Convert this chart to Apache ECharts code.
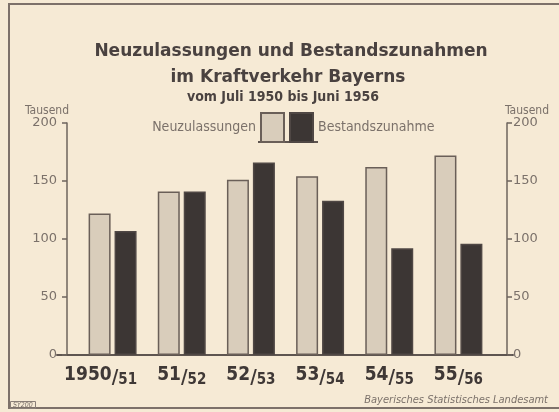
<!DOCTYPE html>
<html>
<head>
<meta charset="utf-8">
<script src="https://cdn.jsdelivr.net/npm/echarts@6/dist/echarts.min.js"></script>
<style>
  html, body { margin: 0; padding: 0; background: #f6ead5; }
  #main { width: 559px; height: 412px; }
</style>
</head>
<body>
<div id="main"></div>
<script>
// Jahre (Juli bis Juni), Werte in Tausend
const years = ['1950/51', '51/52', '52/53', '53/54', '54/55', '55/56'];
const neuzulassungen = [122, 141, 151, 154, 162, 172];
const bestandszunahme = [107, 141, 166, 133, 92, 96];
const yTicks = [0, 50, 100, 150, 200];

const font = 'DejaVu Sans Condensed, DejaVu Sans, sans-serif';
const ink = '#4a4240';
const grey = '#7b716a';

var chartDom = document.getElementById('main');
var myChart = echarts.init(chartDom);

const yAxisBase = {
  type: 'value',
  min: yTicks[0],
  max: yTicks[yTicks.length - 1],
  interval: 50,
  splitLine: { show: false },
  axisLine: { show: true, lineStyle: { color: '#6e645d', width: 1.5 } },
  axisTick: { show: true, length: 5, lineStyle: { color: '#6e645d', width: 1.5 } },
  axisLabel: { color: grey, fontFamily: 'DejaVu Sans, sans-serif', fontSize: 13 }
};

var option = {
  backgroundColor: '#f6ead5',
  animation: false,
  title: [
    {
      text: 'Neuzulassungen und Bestandszunahmen',
      left: 286, top: 38, textAlign: 'center',
      textStyle: { fontFamily: 'DejaVu Sans, sans-serif', fontSize: 17, fontWeight: 'bold', color: ink }
    },
    {
      text: 'im Kraftverkehr Bayerns',
      left: 283, top: 64, textAlign: 'center',
      textStyle: { fontFamily: 'DejaVu Sans, sans-serif', fontSize: 17, fontWeight: 'bold', color: ink }
    },
    {
      text: 'vom Juli 1950 bis Juni 1956',
      left: 278, top: 85, textAlign: 'center',
      textStyle: { fontFamily: font, fontSize: 14, fontWeight: 'bold', color: ink }
    },
    {
      text: 'Tausend',
      left: 20, top: 100,
      textStyle: { fontFamily: font, fontSize: 12, fontWeight: 'normal', color: grey }
    },
    {
      text: 'Tausend',
      left: 500, top: 100,
      textStyle: { fontFamily: font, fontSize: 12, fontWeight: 'normal', color: grey }
    },
    {
      text: 'Bayerisches Statistisches Landesamt',
      right: 6, top: 390,
      textStyle: { fontFamily: font, fontSize: 11, fontStyle: 'italic', fontWeight: 'normal', color: grey }
    },
    {
      text: 'SY200',
      left: 10, top: 401, padding: [1, 3, 0, 3],
      borderColor: '#8a7f78', borderWidth: 1,
      textStyle: { fontFamily: font, fontSize: 7, fontStyle: 'italic', fontWeight: 'normal', color: grey }
    }
  ],
  legend: [
    {
      data: ['Neuzulassungen'],
      right: 274, top: 112, padding: 0,
      align: 'right',
      itemWidth: 23, itemHeight: 29,
      icon: 'rect',
      textStyle: { fontFamily: font, fontSize: 14, color: grey }
    },
    {
      data: ['Bestandszunahme'],
      left: 289, top: 112, padding: 0,
      align: 'left',
      itemWidth: 23, itemHeight: 29,
      icon: 'rect',
      textStyle: { fontFamily: font, fontSize: 14, color: grey }
    }
  ],
  grid: [
    { left: 78, right: 66, top: 123, bottom: 57 },
    { left: 57, right: 46, top: 123, bottom: 57 }
  ],
  xAxis: [
    {
      type: 'category',
      gridIndex: 0,
      data: years,
      axisLine: { show: false },
      axisTick: { show: false },
      axisLabel: {
        interval: 0,
        margin: 8,
        formatter: function (value, idx) {
          const parts = value.split('/');
          const pad = idx === 0 ? '{pad| }' : '';
          return `{a|${parts[0]}}{sl|/}{b|${parts[1]}}` + pad;
        },
        rich: {
          a: { fontFamily: font, fontSize: 19, fontWeight: 'bold', color: '#3f3836' },
          sl: { fontFamily: font, fontSize: 20, fontWeight: 'bold', color: '#3f3836', padding: [4, 0, 0, 0] },
          b: { fontFamily: font, fontSize: 15, fontWeight: 'bold', color: '#3f3836', padding: [10, 0, 0, 0] },
          pad: { width: 24 }
        }
      }
    },
    {
      type: 'value',
      gridIndex: 1,
      axisLine: { show: true, lineStyle: { color: '#5e5550', width: 2 } },
      axisTick: { show: false },
      axisLabel: { show: false },
      splitLine: { show: false }
    }
  ],
  yAxis: [
    Object.assign({}, yAxisBase, {
      gridIndex: 0, position: 'left', offset: 11,
      axisLabel: Object.assign({}, yAxisBase.axisLabel, { margin: 10 })
    }),
    Object.assign({}, yAxisBase, {
      gridIndex: 0, position: 'right', offset: 14,
      axisLabel: Object.assign({}, yAxisBase.axisLabel, { margin: 6 })
    }),
    { type: 'value', gridIndex: 1, show: false }
  ],
  series: [
    {
      name: 'Neuzulassungen',
      type: 'bar',
      xAxisIndex: 0, yAxisIndex: 0,
      data: neuzulassungen,
      barWidth: 22,
      barGap: '18%',
      itemStyle: { color: '#d9cdbb', borderColor: '#6a5f58', borderWidth: 1.5 }
    },
    {
      name: 'Bestandszunahme',
      type: 'bar',
      xAxisIndex: 0, yAxisIndex: 0,
      data: bestandszunahme,
      barWidth: 22,
      itemStyle: { color: '#3c3634', borderColor: '#4f4744', borderWidth: 1.5 }
    }
  ],
  graphic: [
    {
      type: 'rect',
      shape: { x: 9, y: 4, width: 600, height: 404 },
      style: { fill: 'none', stroke: '#7d716a', lineWidth: 2 },
      silent: true
    },
    {
      type: 'line',
      shape: { x1: 258, y1: 142, x2: 318, y2: 142 },
      style: { stroke: '#5e5550', lineWidth: 2 },
      silent: true
    }
  ]
};

option && myChart.setOption(option);
</script>
</body>
</html>
